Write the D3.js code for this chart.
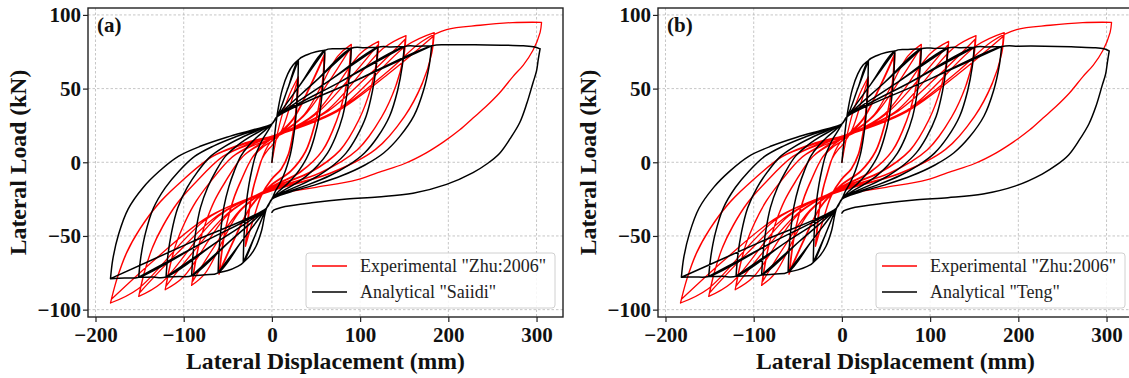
<!DOCTYPE html>
<html>
<head>
<meta charset="utf-8">
<script src="https://cdn.jsdelivr.net/npm/d3@7"></script>
<style>
  body { margin: 0; background: #fff; }
  text { font-family: "Liberation Serif", "Times New Roman", serif; }
</style>
</head>
<body>
<svg id="chart" width="1129" height="378"></svg>
<script>
// Axis ticks and ranges (displacement in mm, load in kN)
const xTicks = [-200, -100, 0, 100, 200, 300];
const yTicks = [-100, -50, 0, 50, 100];
const xDomain = [-208.5, 330];
const yDomain = [-105, 104.7];

const panelLabels = ["(a)", "(b)"];
const experimentalName = 'Experimental "Zhu:2006"';
const analyticalNames = ['Analytical "Saiidi"', 'Analytical "Teng"'];

// Experimental load–displacement history [displacement, load]
const experimental = [
  [0,0],[5,16],[12,33],[20,46],[30,58],
  [29.6,48.7],[27.9,36.0],[24.6,20.9],[19.2,5.8],[10.8,-4.6],[-0.6,-12.0],[-12,-22.8],[-21.6,-39.9],[-30,-57],
  [-28.8,-47.3],[-27,-36.8],[-24.6,-27.4],[-21.5,-17.9],[-17.7,-9.6],[-11.1,2.5],[-4.7,8.3],[0.6,11.7],[11.6,22.2],[20.9,38.9],[29,55.5],
  [28.6,46.6],[27.0,34.4],[23.8,20.0],[18.6,5.6],[10.4,-4.4],[-0.6,-11.4],[-11.6,-21.8],[-20.9,-38.2],[-29,-54.5],
  [-27.8,-45.2],[-26.1,-35.2],[-23.8,-26.2],[-20.8,-17.1],[-17.1,-9.2],[-10.7,3.3],[-4.6,11.1],[1.2,15.5],[24,29.6],[43.2,51.8],[60,74],
  [59.1,62.2],[55.8,45.9],[49.2,26.6],[38.4,7.4],[21.6,-6.1],[-1.2,-16.0],[-24,-30.4],[-43.2,-53.2],[-60,-76],
  [-57.6,-63.1],[-54,-49],[-49.2,-36.5],[-43,-23.9],[-35.4,-12.8],[-22.2,3.2],[-9.4,10.7],[1.2,15.0],[23.6,28.6],[42.5,50.1],[59,71.5],
  [58.1,60.1],[54.9,44.3],[48.4,25.7],[37.8,7.2],[21.2,-5.9],[-1.2,-15.4],[-23.6,-29.4],[-42.5,-51.5],[-59,-73.5],
  [-56.6,-61],[-53.1,-47.4],[-48.4,-35.3],[-42.2,-23.1],[-34.8,-12.3],[-21.8,3.6],[-9.3,12],[1.8,16.8],[36,32],[74.7,72],[90,80],
  [88.7,67.2],[83.7,49.6],[73.8,28.8],[57.6,8.0],[32.4,-6.7],[-1.8,-17.5],[-36.4,-33.4],[-75.5,-75.2],[-91,-83.5],
  [-87.4,-69.3],[-81.9,-53.9],[-74.6,-40.1],[-65.2,-26.2],[-53.7,-14],[-33.7,3.5],[-14.3,11.6],[1.8,16.3],[35.6,31.0],[64.1,54.3],[89,77.5],
  [87.7,65.1],[82.8,48.1],[73.0,27.9],[57.0,7.8],[32.0,-6.5],[-1.8,-17.0],[-36,-32.4],[-64.8,-56.7],[-90,-81],
  [-86.4,-67.2],[-81,-52.2],[-73.8,-38.9],[-64.4,-25.4],[-53.1,-13.6],[-33.3,3.7],[-14.1,12.3],[2.4,17.2],[48.4,32.8],[100.4,73.8],[121,82],
  [119.2,68.9],[112.5,50.8],[99.2,29.5],[77.4,8.2],[43.6,-6.9],[-2.4,-18.2],[-48.4,-34.6],[-100.4,-77.9],[-121,-86.5],
  [-116.2,-71.8],[-108.9,-55.8],[-99.2,-41.5],[-86.6,-27.2],[-71.4,-14.5],[-44.8,3.6],[-19,11.9],[2.4,16.7],[48,31.8],[86.4,55.7],[120,79.5],
  [118.2,66.8],[111.6,49.3],[98.4,28.6],[76.8,8.0],[43.2,-6.7],[-2.4,-17.6],[-48,-33.6],[-86.4,-58.8],[-120,-84],
  [-115.2,-69.7],[-108,-54.2],[-98.4,-40.3],[-85.9,-26.4],[-70.8,-14.1],[-44.4,3.9],[-18.8,12.9],[3.0,18.1],[60.8,34.4],[126.2,77.4],[152,86],
  [149.7,72.2],[141.4,53.3],[124.6,31.0],[97.3,8.6],[54.7,-7.3],[-3.0,-19.1],[-60.4,-36.4],[-125.3,-81.9],[-151,-91],
  [-145,-75.5],[-135.9,-58.7],[-123.8,-43.7],[-108.1,-28.6],[-89.1,-15.3],[-55.9,3.8],[-23.7,12.5],[3.0,17.5],[60.4,33.4],[108.7,58.5],[151,83.5],
  [148.7,70.1],[140.4,51.8],[123.8,30.1],[96.6,8.4],[54.4,-7.1],[-3.0,-18.6],[-60,-35.4],[-108,-62.0],[-150,-88.5],
  [-144,-73.5],[-135,-57.1],[-123,-42.5],[-107.4,-27.8],[-88.5,-14.9],[-55.5,4],[-23.6,13.2],[3.7,18.5],[73.6,35.2],[152.7,79.2],[184,88],
  [181.2,73.9],[171.1,54.6],[150.9,31.7],[117.8,8.8],[66.2,-7.6],[-3.7,-20.1],[-73.2,-38.2],[-151.9,-86],[-183,-95.5],
  [-175.7,-79.3],[-164.7,-61.6],[-150.1,-45.8],[-131,-30],[-108,-16],[-67.7,3.8],[-28.7,12.8],[3.7,18.0],[73.2,34.2],[131.8,59.9],[183,85.5],
  [180.3,71.8],[170.2,53.0],[150.1,30.8],[117.1,8.6],[65.9,-7.4],[-3.6,-19.5],[-72.8,-37.2],[-131,-65.1],[-182,-93],
  [-174.7,-77.2],[-163.8,-60],[-149.2,-44.6],[-130.3,-29.2],[-107.4,-15.6],[-67.3,4],[-28.6,13.5],[3.7,18.5],[73.6,35.2],[132,62],[170,82],
  [198,90],[236,93],[273,94.8],[305.7,95],
  [304,88],[296,76],[285,66],[273,58],[258,47],[243,38],[228,30],[213,22],[195,14],[175,6.4],[150,-1],[120,-7],[96,-12],[50,-17],[9,-21]
];

// Analytical history, Saiidi model [displacement, load]
const analyticalSaiidi = [
  [0,0],[3,18],[7,36],[12,50],[18,60],[24,66],[30,69.5],
  [29.6,57.7],[28.5,43.1],[26.7,27.8],[24,15.3],[21,5.6],[17.4,-2],[13.2,-9],[8.4,-15],[3.6,-20],[0,-25],[-6,-31],
  [-12,-47],[-18,-57],[-25,-63.5],[-32.5,-68],
  [-32,-56.4],[-30.9,-42.2],[-28.9,-27.2],[-26,-15],[-22.8,-5.4],[-18.9,4],[-14.3,11],[-9.1,17],[-3.9,22],[0,26],[6,31],
  [18,50],[30,69.5],
  [29.6,57.7],[28.5,43.1],[26.7,27.8],[24,15.3],[21,5.6],[17.4,-2],[13.2,-9],[8.4,-15],[3.6,-20],[0,-25],[-6,-31],
  [-19,-49.5],[-32.5,-68],
  [-32,-56.4],[-30.9,-42.2],[-28.9,-27.2],[-26,-15],[-22.8,-5.4],[-18.9,4],[-14.3,11],[-9.1,17],[-3.9,22],[0,26],[6,31],
  [18,50],[30,69.5],[40,73],[50,75],[60,76],
  [59.1,63.1],[57,47.1],[53.4,30.4],[48,16.7],[42,6.1],[34.8,-2],[26.4,-9],[16.8,-15],[7.2,-20],[0,-25],[-6,-31],
  [-19,-49.5],[-32.5,-68],[-40,-71],[-50,-73.5],[-61,-75],
  [-60.1,-62.3],[-58,-46.5],[-54.3,-30],[-48.8,-16.5],[-42.7,-6],[-35.4,4],[-26.8,11],[-17.1,17],[-7.3,22],[0,26],[6,31],
  [33,53.5],[60,76],
  [59.1,63.1],[57,47.1],[53.4,30.4],[48,16.7],[42,6.1],[34.8,-2],[26.4,-9],[16.8,-15],[7.2,-20],[0,-25],[-6,-31],
  [-33.5,-53],[-61,-75],
  [-60.1,-62.3],[-58,-46.5],[-54.3,-30],[-48.8,-16.5],[-42.7,-6],[-35.4,4],[-26.8,11],[-17.1,17],[-7.3,22],[0,26],[6,31],
  [33,53.5],[60,76],[75,77],[90,77.4],
  [88.65,64.2],[85.5,48],[80.1,31],[72,17],[63,6.2],[52.2,-2],[39.6,-9],[25.2,-15],[10.8,-20],[0,-25],[-6,-31],
  [-33.5,-53],[-61,-75],[-75,-76.3],[-91,-77],
  [-89.6,-63.9],[-86.5,-47.7],[-81,-30.8],[-72.8,-16.9],[-63.7,-6.2],[-52.8,4],[-40,11],[-25.5,17],[-10.9,22],[0,26],[6,31],
  [48,54.2],[90,77.4],
  [88.65,64.2],[85.5,48],[80.1,31],[72,17],[63,6.2],[52.2,-2],[39.6,-9],[25.2,-15],[10.8,-20],[0,-25],[-6,-31],
  [-48.5,-54],[-91,-77],
  [-89.6,-63.9],[-86.5,-47.7],[-81,-30.8],[-72.8,-16.9],[-63.7,-6.2],[-52.8,4],[-40,11],[-25.5,17],[-10.9,22],[0,26],[6,31],
  [48,54.2],[90,77.4],[105,77.8],[120,78],
  [118.2,64.7],[114,48.4],[106.8,31.2],[96,17.2],[84,6.2],[69.6,-2],[52.8,-9],[33.6,-15],[14.4,-20],[0,-25],[-6,-31],
  [-48.5,-54],[-91,-77],[-105,-77.5],[-120,-77.8],
  [-118.2,-64.6],[-114,-48.2],[-106.8,-31.1],[-96,-17.1],[-84,-6.2],[-69.6,4],[-52.8,11],[-33.6,17],[-14.4,22],[0,26],[6,31],
  [63,54.5],[120,78],
  [118.2,64.7],[114,48.4],[106.8,31.2],[96,17.2],[84,6.2],[69.6,-2],[52.8,-9],[33.6,-15],[14.4,-20],[0,-25],[-6,-31],
  [-63,-54.4],[-120,-77.8],
  [-118.2,-64.6],[-114,-48.2],[-106.8,-31.1],[-96,-17.1],[-84,-6.2],[-69.6,4],[-52.8,11],[-33.6,17],[-14.4,22],[0,26],[6,31],
  [63,54.5],[120,78],[135,78.3],[150,78.5],
  [147.75,65.2],[142.5,48.7],[133.5,31.4],[120,17.3],[105,6.3],[87,-2],[66,-9],[42,-15],[18,-20],[0,-25],[-6,-31],
  [-63,-54.4],[-120,-77.8],[-135,-77.9],[-151,-78],
  [-148.7,-64.7],[-143.5,-48.4],[-134.4,-31.2],[-120.8,-17.2],[-105.7,-6.2],[-87.6,4],[-66.4,11],[-42.3,17],[-18.1,22],[0,26],[6,31],
  [78,54.75],[150,78.5],
  [147.75,65.2],[142.5,48.7],[133.5,31.4],[120,17.3],[105,6.3],[87,-2],[66,-9],[42,-15],[18,-20],[0,-25],[-6,-31],
  [-78.5,-54.5],[-151,-78],
  [-148.7,-64.7],[-143.5,-48.4],[-134.4,-31.2],[-120.8,-17.2],[-105.7,-6.2],[-87.6,4],[-66.4,11],[-42.3,17],[-18.1,22],[0,26],[6,31],
  [78,54.75],[150,78.5],[165,78.8],[181,79],
  [178.3,65.6],[172,49],[161.1,31.6],[144.8,17.4],[126.7,6.3],[105,-2],[79.6,-9],[50.7,-15],[21.7,-20],[0,-25],[-6,-31],
  [-78.5,-54.5],[-151,-78],[-167,-78.5],[-183,-79],
  [-180.3,-65.6],[-173.9,-49],[-162.9,-31.6],[-146.4,-17.4],[-128.1,-6.3],[-106.1,4],[-80.5,11],[-51.2,17],[-22,22],[0,26],[6,31],
  [93.5,55],[181,79],
  [178.3,65.6],[172,49],[161.1,31.6],[144.8,17.4],[126.7,6.3],[105,-2],[79.6,-9],[50.7,-15],[21.7,-20],[0,-25],[-6,-31],
  [-94.5,-55],[-183,-79],
  [-180.3,-65.6],[-173.9,-49],[-162.9,-31.6],[-146.4,-17.4],[-128.1,-6.3],[-106.1,4],[-80.5,11],[-51.2,17],[-22,22],[0,26],[6,31],
  [93.5,55],[181,79],[200,79.7],[230,79.8],[260,79.5],[285,79],[298,78.3],[304,77],
  [302,70],[300,62],[296,54],[289,40],[281,27],[270,16],[258,6],[244,-1],[228,-7],[198,-15],[160,-21],[120,-23.5],[85,-25],[45,-27.5],[15,-30],[6,-31.5],[2,-32.5],[0,-34]
];

// Analytical history, Teng model [displacement, load]
const analyticalTeng = [
  [0,0],[3,18],[7,36],[12,50],[18,60],[24,66],[30,69],
  [29.6,57.3],[28.5,42.8],[26.7,27.6],[24,15.2],[21,5.5],[17.4,-2],[13.2,-9],[8.4,-15],[3.6,-20],[0,-25],[-6,-31],
  [-12,-47],[-18,-57],[-25,-63.5],[-32.5,-68],
  [-32,-56.4],[-30.9,-42.2],[-28.9,-27.2],[-26,-15],[-22.8,-5.4],[-18.9,4],[-14.3,11],[-9.1,17],[-3.9,22],[0,26],[6,31],
  [18,50],[30,69],
  [29.6,57.3],[28.5,42.8],[26.7,27.6],[24,15.2],[21,5.5],[17.4,-2],[13.2,-9],[8.4,-15],[3.6,-20],[0,-25],[-6,-31],
  [-19,-49.5],[-32.5,-68],
  [-32,-56.4],[-30.9,-42.2],[-28.9,-27.2],[-26,-15],[-22.8,-5.4],[-18.9,4],[-14.3,11],[-9.1,17],[-3.9,22],[0,26],[6,31],
  [18,50],[30,69],[40,72.5],[50,74.5],[60,75.5],
  [59.1,62.7],[57,46.8],[53.4,30.2],[48,16.6],[42,6],[34.8,-2],[26.4,-9],[16.8,-15],[7.2,-20],[0,-25],[-6,-31],
  [-19,-49.5],[-32.5,-68],[-40,-70.8],[-50,-73],[-61,-74.5],
  [-60.1,-61.8],[-58,-46.2],[-54.3,-29.8],[-48.8,-16.4],[-42.7,-6],[-35.4,4],[-26.8,11],[-17.1,17],[-7.3,22],[0,26],[6,31],
  [33,53.2],[60,75.5],
  [59.1,62.7],[57,46.8],[53.4,30.2],[48,16.6],[42,6],[34.8,-2],[26.4,-9],[16.8,-15],[7.2,-20],[0,-25],[-6,-31],
  [-33.5,-52.8],[-61,-74.5],
  [-60.1,-61.8],[-58,-46.2],[-54.3,-29.8],[-48.8,-16.4],[-42.7,-6],[-35.4,4],[-26.8,11],[-17.1,17],[-7.3,22],[0,26],[6,31],
  [33,53.2],[60,75.5],[75,76.5],[90,77],
  [88.65,63.9],[85.5,47.7],[80.1,30.8],[72,16.9],[63,6.2],[52.2,-2],[39.6,-9],[25.2,-15],[10.8,-20],[0,-25],[-6,-31],
  [-33.5,-52.8],[-61,-74.5],[-75,-75.8],[-91,-76.5],
  [-89.6,-63.5],[-86.5,-47.4],[-81,-30.6],[-72.8,-16.8],[-63.7,-6.1],[-52.8,4],[-40,11],[-25.5,17],[-10.9,22],[0,26],[6,31],
  [48,54],[90,77],
  [88.65,63.9],[85.5,47.7],[80.1,30.8],[72,16.9],[63,6.2],[52.2,-2],[39.6,-9],[25.2,-15],[10.8,-20],[0,-25],[-6,-31],
  [-48.5,-53.8],[-91,-76.5],
  [-89.6,-63.5],[-86.5,-47.4],[-81,-30.6],[-72.8,-16.8],[-63.7,-6.1],[-52.8,4],[-40,11],[-25.5,17],[-10.9,22],[0,26],[6,31],
  [48,54],[90,77],[105,77.3],[120,77.5],
  [118.2,64.3],[114,48.1],[106.8,31],[96,17.1],[84,6.2],[69.6,-2],[52.8,-9],[33.6,-15],[14.4,-20],[0,-25],[-6,-31],
  [-48.5,-53.8],[-91,-76.5],[-105,-77],[-120,-77.3],
  [-118.2,-64.2],[-114,-47.9],[-106.8,-30.9],[-96,-17],[-84,-6.2],[-69.6,4],[-52.8,11],[-33.6,17],[-14.4,22],[0,26],[6,31],
  [63,54.2],[120,77.5],
  [118.2,64.3],[114,48.1],[106.8,31],[96,17.1],[84,6.2],[69.6,-2],[52.8,-9],[33.6,-15],[14.4,-20],[0,-25],[-6,-31],
  [-63,-54.1],[-120,-77.3],
  [-118.2,-64.2],[-114,-47.9],[-106.8,-30.9],[-96,-17],[-84,-6.2],[-69.6,4],[-52.8,11],[-33.6,17],[-14.4,22],[0,26],[6,31],
  [63,54.2],[120,77.5],[135,77.8],[150,78],
  [147.75,64.7],[142.5,48.4],[133.5,31.2],[120,17.2],[105,6.2],[87,-2],[66,-9],[42,-15],[18,-20],[0,-25],[-6,-31],
  [-63,-54.1],[-120,-77.3],[-135,-77.4],[-151,-77.5],
  [-148.7,-64.3],[-143.5,-48.1],[-134.4,-31],[-120.8,-17.1],[-105.7,-6.2],[-87.6,4],[-66.4,11],[-42.3,17],[-18.1,22],[0,26],[6,31],
  [78,54.5],[150,78],
  [147.75,64.7],[142.5,48.4],[133.5,31.2],[120,17.2],[105,6.2],[87,-2],[66,-9],[42,-15],[18,-20],[0,-25],[-6,-31],
  [-78.5,-54.2],[-151,-77.5],
  [-148.7,-64.3],[-143.5,-48.1],[-134.4,-31],[-120.8,-17.1],[-105.7,-6.2],[-87.6,4],[-66.4,11],[-42.3,17],[-18.1,22],[0,26],[6,31],
  [78,54.5],[150,78],[165,78.3],[181,78.5],
  [178.3,65.2],[172,48.7],[161.1,31.4],[144.8,17.3],[126.7,6.3],[105,-2],[79.6,-9],[50.7,-15],[21.7,-20],[0,-25],[-6,-31],
  [-78.5,-54.2],[-151,-77.5],[-167,-77.8],[-182,-78],
  [-179.3,-64.7],[-172.9,-48.4],[-162,-31.2],[-145.6,-17.2],[-127.4,-6.2],[-105.6,4],[-80.1,11],[-51,17],[-21.8,22],[0,26],[6,31],
  [93.5,54.7],[181,78.5],
  [178.3,65.2],[172,48.7],[161.1,31.4],[144.8,17.3],[126.7,6.3],[105,-2],[79.6,-9],[50.7,-15],[21.7,-20],[0,-25],[-6,-31],
  [-94,-54.5],[-182,-78],
  [-179.3,-64.7],[-172.9,-48.4],[-162,-31.2],[-145.6,-17.2],[-127.4,-6.2],[-105.6,4],[-80.1,11],[-51,17],[-21.8,22],[0,26],[6,31],
  [93.5,54.7],[181,78.5],[200,78.8],[230,78.8],[260,78.4],[285,77.8],[297,77],[303,75.5],
  [301,68],[299,60],[295,52],[288,38],[280,26],[269,15],[257,5],[243,-2],[227,-8],[197,-16],[160,-21.5],[120,-24],[85,-25.5],[45,-28],[15,-30.5],[6,-32],[2,-33],[0,-34.5]
];

const analyticalSeries = [analyticalSaiidi, analyticalTeng];

// Break a load history into branches at each reversal of displacement,
// so every loading / unloading branch is smoothed on its own and the
// reversal points stay sharp.
function branches(history) {
  const out = [];
  let cur = [history[0]];
  let dir = 0;
  for (let k = 1; k < history.length; k++) {
    const d = Math.sign(history[k][0] - history[k - 1][0]);
    if (dir !== 0 && d !== 0 && d !== dir) {
      out.push(cur);
      cur = [history[k - 1]];
    }
    if (d !== 0) dir = d;
    cur.push(history[k]);
  }
  out.push(cur);
  return out;
}

// ---- layout ----
const W = 1129, H = 378;
const plotW = 475, plotTop = 8, plotBottom = 317;
const panelLefts = [88, 658];

const svg = d3.select("#chart");
svg.append("rect").attr("width", W).attr("height", H).attr("fill", "#fff");

panelLefts.forEach((left, i) => {
  const x = d3.scaleLinear().domain(xDomain).range([left, left + plotW]);
  const y = d3.scaleLinear().domain(yDomain).range([plotBottom, plotTop]);
  const g = svg.append("g");

  // grid
  const grid = g.append("g").attr("stroke", "#b8b8b8").attr("stroke-width", 0.8)
    .attr("stroke-dasharray", "2.5,2");
  grid.selectAll(".gx").data(xTicks).enter().append("line")
    .attr("x1", d => x(d)).attr("x2", d => x(d)).attr("y1", plotTop).attr("y2", plotBottom);
  grid.selectAll(".gy").data(yTicks).enter().append("line")
    .attr("y1", d => y(d)).attr("y2", d => y(d)).attr("x1", left).attr("x2", left + plotW);

  // clip
  const clipId = "clip" + i;
  svg.append("clipPath").attr("id", clipId).append("rect")
    .attr("x", left).attr("y", plotTop).attr("width", plotW).attr("height", plotBottom - plotTop);

  const line = d3.line()
    .x(d => x(d[0])).y(d => y(d[1]))
    .curve(d3.curveCatmullRom.alpha(0.5));
  const pathD = hist => branches(hist).map(b => line(b)).join("");

  const plot = g.append("g").attr("clip-path", `url(#${clipId})`);
  plot.append("path").attr("d", pathD(experimental))
    .attr("fill", "none").attr("stroke", "#ff0000").attr("stroke-width", 1.3)
    .attr("stroke-linejoin", "round").attr("stroke-linecap", "round");
  plot.append("path").attr("d", pathD(analyticalSeries[i]))
    .attr("fill", "none").attr("stroke", "#000").attr("stroke-width", 1.5)
    .attr("stroke-linejoin", "round").attr("stroke-linecap", "round");

  // axes
  const fmt = d3.format("d");
  const xAxis = g.append("g").attr("transform", `translate(0,${plotBottom})`)
    .call(d3.axisBottom(x).tickValues(xTicks).tickSize(5).tickPadding(5).tickFormat(fmt));
  const yAxis = g.append("g").attr("transform", `translate(${left},0)`)
    .call(d3.axisLeft(y).tickValues(yTicks).tickSize(5).tickPadding(2).tickFormat(fmt));
  [xAxis, yAxis].forEach(a => {
    a.select(".domain").remove();
    a.selectAll(".tick line").attr("stroke", "#222").attr("stroke-width", 1.2);
    a.selectAll(".tick text").attr("fill", "#111")
      .style("font-family", '"Liberation Serif", serif')
      .style("font-size", "21px").style("font-weight", "bold");
  });

  // frame
  g.append("rect").attr("x", left).attr("y", plotTop).attr("width", plotW).attr("height", plotBottom - plotTop)
    .attr("fill", "none").attr("stroke", "#222").attr("stroke-width", 1.4);

  // axis titles
  g.append("text").attr("x", left + plotW / 2).attr("y", 369)
    .attr("text-anchor", "middle").attr("fill", "#111")
    .style("font-size", "23.7px").style("font-weight", "bold")
    .text("Lateral Displacement (mm)");
  g.append("text")
    .attr("transform", `translate(${left - 62},${(plotTop + plotBottom) / 2}) rotate(-90)`)
    .attr("text-anchor", "middle").attr("fill", "#111")
    .style("font-size", "23.7px").style("font-weight", "bold")
    .text("Lateral Load (kN)");

  // panel label
  g.append("text").attr("x", left + 9).attr("y", 32).attr("fill", "#111")
    .style("font-size", "21px").style("font-weight", "bold").text(panelLabels[i]);

  // legend
  const lg = g.append("g").attr("transform", `translate(${left + 218},253)`);
  lg.append("rect").attr("width", 249).attr("height", 55).attr("rx", 3)
    .attr("fill", "#fff").attr("fill-opacity", 0.85).attr("stroke", "#d0d0d0").attr("stroke-width", 1);
  const entries = [
    { name: experimentalName, color: "#ff0000" },
    { name: analyticalNames[i], color: "#000" }
  ];
  entries.forEach((e, k) => {
    const yy = 13 + k * 26;
    lg.append("line").attr("x1", 6).attr("x2", 41).attr("y1", yy).attr("y2", yy)
      .attr("stroke", e.color).attr("stroke-width", 1.5);
    lg.append("text").attr("x", 54).attr("y", yy + 6).attr("fill", "#222")
      .style("font-size", "18px").text(e.name);
  });
});
</script>
</body>
</html>
